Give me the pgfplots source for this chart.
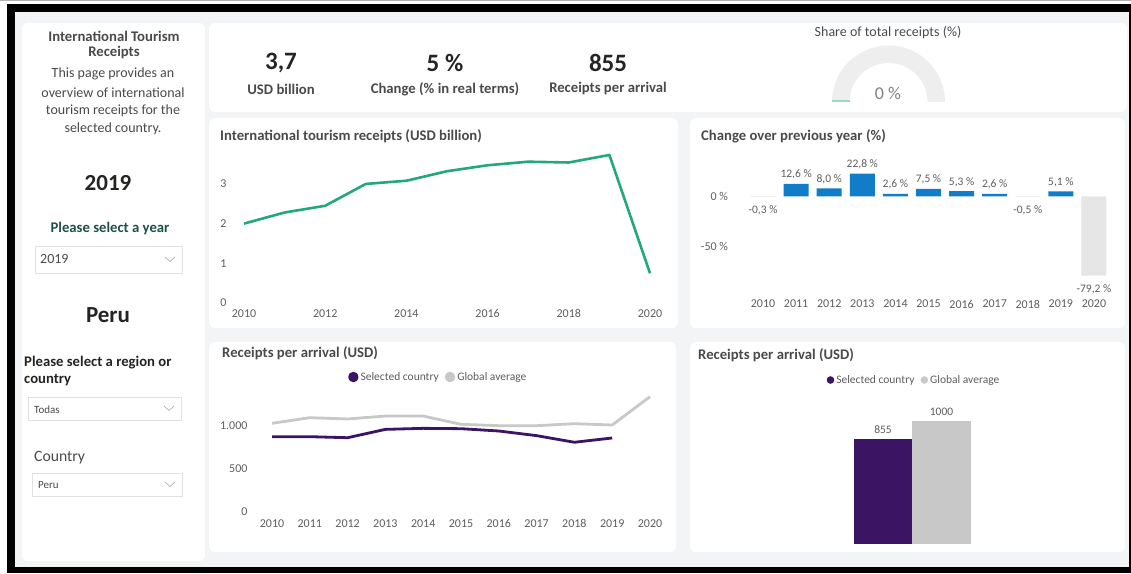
\documentclass[border=0pt]{standalone}
\usepackage{fontspec}
\setmainfont{Carlito}
\usepackage{pgfplots}
\pgfplotsset{compat=1.18}
\definecolor{bgc}{HTML}{F3F4F6}
\definecolor{greenline}{HTML}{23A878}
\definecolor{pbblue}{HTML}{117DC8}
\definecolor{lgbar}{HTML}{E6E6E6}
\definecolor{purp}{HTML}{3B1463}
\definecolor{gline}{HTML}{C8C8C8}
\definecolor{tickc}{HTML}{605E5C}
\definecolor{titc}{HTML}{4A4A4A}
\definecolor{darkt}{HTML}{252423}
\definecolor{greent}{HTML}{1E5048}
\definecolor{ddb}{HTML}{E1E1E1}
\definecolor{gaugeg}{HTML}{EEEEEE}
\definecolor{gauget}{HTML}{9FD8CB}
\newcommand\fs[1]{\fontsize{#1pt}{#1pt}\selectfont}
\pgfplotsset{dash/.style={scale only axis, axis line style={draw=none}, tick style={draw=none}, major tick length=0pt,
  tick label style={font=\fs{12}, text=tickc}, /pgf/number format/assume math mode=true,
  /pgf/number format/1000 sep={}, clip=false, anchor=south west}}
\begin{document}
\begin{tikzpicture}[x=1pt,y=1pt]
\useasboundingbox (0,0) rectangle (1131,573);
\fill[white] (0,0) rectangle (1131,573);
\fill[bgc] (15,6) rectangle (1129,561);
% border
\fill[black] (7,561) rectangle (1131,569);
\fill[black] (7,0) rectangle (15,569);
\fill[black] (7,0) rectangle (1131,6);
\fill[black] (1129,0) rectangle (1131,569);
\fill[gray!60] (0,571.5) rectangle (1131,573);
% panels
\fill[white, rounded corners=6pt] (22,12) rectangle (205,550);
\fill[white, rounded corners=6pt] (209,461) rectangle (1127,550);
\fill[white, rounded corners=6pt] (209,245) rectangle (678,455);
\fill[white, rounded corners=6pt] (690,245) rectangle (1125,455);
\fill[white, rounded corners=6pt] (209,21) rectangle (676,231);
\fill[white, rounded corners=6pt] (690,21) rectangle (1125,231);
% left panel
\node[font=\fs{14.7}\bfseries, text=titc] at (114,537) {International Tourism};
\node[font=\fs{14.7}\bfseries, text=titc] at (114,520) {Receipts};
\node[font=\fs{14}, text=titc] at (113,499) {This page provides an};
\node[font=\fs{14}, text=titc] at (113,480) {overview of international};
\node[font=\fs{14}, text=titc] at (113,462) {tourism receipts for the};
\node[font=\fs{14}, text=titc] at (113,444) {selected country.};
\node[font=\fs{23}\bfseries, text=darkt] at (108,390) {2019};
\node[font=\fs{14.7}\bfseries, text=greent] at (110,344) {Please select a year};
\draw[ddb, fill=white] (35,300) rectangle (182,327);
\node[font=\fs{14}, text=titc, anchor=west, inner sep=0pt] at (40,313.5) {2019};
\draw[gray!60, line width=0.7pt] (165,316) -- (170,311.5) -- (175,316);
\node[font=\fs{23}\bfseries, text=darkt] at (108,258) {Peru};
\node[font=\fs{14.7}\bfseries, text=darkt, anchor=west, inner sep=0pt] at (24,210) {Please select a region or};
\node[font=\fs{14.7}\bfseries, text=darkt, anchor=west, inner sep=0pt] at (24,193) {country};
\draw[ddb, fill=white] (28,153) rectangle (181,176);
\node[font=\fs{11}, text=titc, anchor=west, inner sep=0pt] at (34,163.5) {Todas};
\draw[gray!60, line width=0.7pt] (164,167) -- (169,162.5) -- (174,167);
\node[font=\fs{15.7}, text=titc, anchor=west, inner sep=0pt] at (34,115) {Country};
\draw[ddb, fill=white] (32,77) rectangle (182,100);
\node[font=\fs{11}, text=titc, anchor=west, inner sep=0pt] at (38,87.5) {Peru};
\draw[gray!60, line width=0.7pt] (165,91) -- (170,86.5) -- (175,91);
% KPIs
\node[font=\fs{25}\bfseries, text=darkt] at (281,510) {3,7};
\node[font=\fs{14.7}\bfseries, text=titc] at (281,484) {USD billion};
\node[font=\fs{25}\bfseries, text=darkt] at (445,510) {5 \%};
\node[font=\fs{14.7}\bfseries, text=titc] at (445,484) {Change (\% in real terms)};
\node[font=\fs{25}\bfseries, text=darkt] at (608,510) {855};
\node[font=\fs{14.7}\bfseries, text=titc] at (608,484) {Receipts per arrival};
% gauge
\node[font=\fs{14}, text=titc] at (888,540) {Share of total receipts (\%)};
\fill[gaugeg] (832,471) arc[start angle=180,end angle=0,radius=56.5] -- (927.5,471) arc[start angle=0,end angle=180,radius=39] -- cycle;
\draw[gauget, line width=1.5pt] (832,471.75) -- (849.5,471.75);
\node[font=\fs{18}, text=gray] at (888,480) {0 \%};
% titles
\node[font=\fs{14.7}\bfseries, text=titc, anchor=west, inner sep=0pt] at (220,437) {International tourism receipts (USD billion)};
\node[font=\fs{14.7}\bfseries, text=titc, anchor=west, inner sep=0pt] at (701,437) {Change over previous year (\%)};
\node[font=\fs{14.7}\bfseries, text=titc, anchor=west, inner sep=0pt] at (222,220) {Receipts per arrival (USD)};
\node[font=\fs{14.7}\bfseries, text=titc, anchor=west, inner sep=0pt] at (698,218) {Receipts per arrival (USD)};
% axis anchors
\coordinate (A1) at (244,270);
\coordinate (A2) at (746.5,276.5);
\coordinate (A3) at (272,61.5);
\coordinate (A4) at (853.75,29);
% chart 1
\begin{axis}[dash, at={(A1)}, width=406pt, height=154.8pt, xmin=2010, xmax=2020, ymin=0, ymax=3.9,
  xtick={2010,2012,...,2020}, ytick={0,1,2,3}, yticklabel style={xshift=-14pt}, xticklabel style={yshift=-3pt}]
\addplot[color=greenline, line width=2.6pt, line join=round] coordinates {(2010,2.0) (2011,2.28) (2012,2.45) (2013,3.0) (2014,3.08) (2015,3.32) (2016,3.47) (2017,3.56) (2018,3.54) (2019,3.73) (2020,0.75)};
\end{axis}
% chart 2 (years 2010..2020 plotted at 0..10)
\begin{axis}[dash, at={(A2)}, width=364pt, height=125pt, xmin=-0.5, xmax=10.5, ymin=-100, ymax=25,
  xtick={0,1,...,10}, xticklabels={2010,2011,2012,2013,2014,2015,2016,2017,2018,2019,2020},
  ytick={-50,0}, yticklabels={-50 \%, 0 \%}, yticklabel style={xshift=-15pt},
  nodes near coords style={font=\fs{11.5}, text=tickc}]
\addplot[ybar, bar shift=0pt, bar width=25pt, fill=pbblue, draw=none,
  nodes near coords={\pgfmathprintnumber[fixed,fixed zerofill,precision=1,use comma]{\pgfplotspointmeta}\ \%},
  every node near coord/.append style={yshift=1pt}]
  coordinates {(1,12.6) (2,8.0) (3,22.8) (4,2.6) (5,7.5) (6,5.3) (7,2.6) (9,5.1)};
\addplot[ybar, bar shift=0pt, bar width=25pt, fill=lgbar, draw=none,
  nodes near coords={\pgfmathprintnumber[fixed,fixed zerofill,precision=1,use comma]{\pgfplotspointmeta}\ \%},
  every node near coord/.append style={yshift=-5pt}]
  coordinates {(0,-0.3) (8,-0.5) (10,-79.2)};
\end{axis}
% chart 3
\begin{axis}[dash, at={(A3)}, width=378pt, height=120.4pt, xmin=2010, xmax=2020, ymin=0, ymax=1400,
  xtick={2010,2011,...,2020}, ytick={0,500,1000}, yticklabels={0,500,1.000}, yticklabel style={xshift=-21pt},
  xticklabel style={yshift=-4.5pt},
  legend style={at={(0.44,1.117)}, anchor=center, draw=none, fill=none, legend columns=2, font=\fs{11.5}, text=tickc,
    /tikz/every even column/.append style={column sep=4pt}},
  legend image code/.code={\fill[#1] (2pt,0pt) circle (3.8pt);}]
\addplot[color=purp, line width=2.8pt, line join=round] coordinates {(2010,870) (2011,870) (2012,858) (2013,955) (2014,967) (2015,963) (2016,936) (2017,882) (2018,805) (2019,855)};
\addlegendentry{Selected country}
\addplot[color=gline, line width=2.8pt, line join=round] coordinates {(2010,1025) (2011,1091) (2012,1076) (2013,1110) (2014,1110) (2015,1014) (2016,998) (2017,998) (2018,1021) (2019,1006) (2020,1335)};
\addlegendentry{Global average}
\end{axis}
% chart 4
\begin{axis}[dash, at={(A4)}, width=117pt, height=135.3pt, xmin=-0.5, xmax=1.5, ymin=0, ymax=1100,
  xtick=\empty, ytick=\empty,
  legend style={at={(0.515,1.212)}, anchor=center, draw=none, fill=none, legend columns=2, font=\fs{11.5}, text=tickc,
    /tikz/every even column/.append style={column sep=4pt}},
  nodes near coords style={font=\fs{11.5}, text=tickc}]
\addplot[ybar, bar shift=0pt, bar width=58.5pt, fill=purp, draw=none,
  legend image code/.code={\fill[purp] (2pt,0pt) circle (3.8pt);},
  nodes near coords={\pgfmathprintnumber[1000 sep={}]{\pgfplotspointmeta}}, every node near coord/.append style={yshift=2pt}]
  coordinates {(0,855)};
\addlegendentry{Selected country}
\addplot[ybar, bar shift=0pt, bar width=58.5pt, fill=gline, draw=none,
  legend image code/.code={\fill[gline] (2pt,0pt) circle (3.8pt);},
  nodes near coords={\pgfmathprintnumber[1000 sep={}]{\pgfplotspointmeta}}, every node near coord/.append style={yshift=2pt}]
  coordinates {(1,1000)};
\addlegendentry{Global average}
\end{axis}
\end{tikzpicture}
\end{document}
